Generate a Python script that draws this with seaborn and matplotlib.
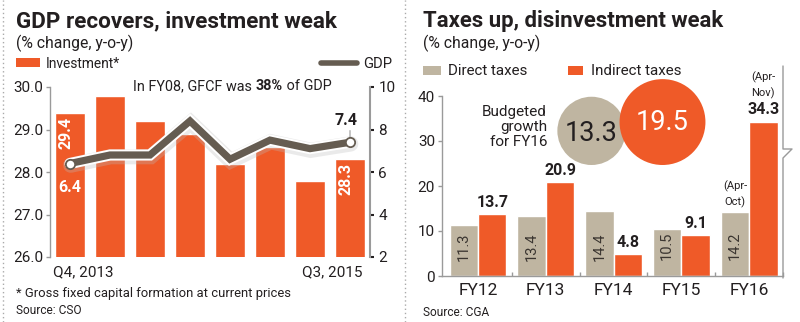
import matplotlib
matplotlib.use("Agg")
import matplotlib.pyplot as plt
import matplotlib.font_manager as fm
import matplotlib.patheffects as pe
from matplotlib.patches import Rectangle
from matplotlib.lines import Line2D
import seaborn as sns
import pandas as pd

# ---------------- data ----------------
quarters = ["Q4, 2013", "Q1, 2014", "Q2, 2014", "Q3, 2014",
            "Q4, 2014", "Q1, 2015", "Q2, 2015", "Q3, 2015"]
investment = [29.4, 29.8, 29.2, 28.9, 28.2, 28.6, 27.8, 28.3]
gdp = [6.4, 6.8, 6.8, 8.4, 6.6, 7.5, 7.1, 7.4]

years = ["FY12", "FY13", "FY14", "FY15", "FY16"]
direct_taxes = [11.3, 13.4, 14.4, 10.5, 14.2]
indirect_taxes = [13.7, 20.9, 4.8, 9.1, 34.3]
tax_types = ["Direct taxes", "Indirect taxes"]
budgeted_fy16 = [13.3, 19.5]

# ---------------- style ----------------
sns.set_theme(style="white")
names = {f.name for f in fm.fontManager.ttflist}
FONT = "Liberation Sans Narrow" if "Liberation Sans Narrow" in names else "Roboto"
plt.rcParams["font.family"] = [FONT, "DejaVu Sans"]

ORANGE = "#ef5a28"
BEIGE = "#bfb5a1"
LINEC = "#655c51"
DARK = "#231f20"
SPINE = "#9a9a9a"

W, H, DPI = 800, 322, 100
fig = plt.figure(figsize=(W / DPI, H / DPI), dpi=DPI)
fig.patch.set_facecolor("white")


def fx(x):
    return x / W


def fy(y):
    return 1 - y / H


def ftext(x, y, s, **kw):
    kw.setdefault("color", DARK)
    return fig.text(fx(x), fy(y), s, **kw)


renderer = fig.canvas.get_renderer()


def fit(t, width):
    """scale a text's font size so that it spans `width` pixels"""
    for _ in range(3):
        bb = t.get_window_extent(renderer)
        t.set_fontsize(t.get_fontsize() * width / bb.width)


# ================= LEFT PANEL =================
ax1 = fig.add_axes([fx(50), fy(257), 320 / W, 170 / H])
df1 = pd.DataFrame({"quarter": quarters, "investment": investment, "gdp": gdp})
sns.barplot(data=df1, x="quarter", y="investment", color=ORANGE, saturation=1,
            width=0.75, ax=ax1, zorder=2)
ax1.set_xlim(-0.5, 7.5)
ax1.set_ylim(26, 30)
ax1.set_yticks([26, 27, 28, 29, 30])
ax1.set_yticklabels([f"{v:.1f}" for v in [26, 27, 28, 29, 30]])
ax1.set_xticks([])
ax1.set_xlabel("")
ax1.set_ylabel("")
for s in ["top", "right", "bottom"]:
    ax1.spines[s].set_visible(False)
ax1.spines["left"].set_color(SPINE)
ax1.spines["left"].set_linewidth(1)
ax1.tick_params(axis="y", length=3, width=1, color=SPINE, labelsize=11,
                labelcolor=DARK, pad=2, left=True)
ax1.set_facecolor("none")

ax2 = ax1.twinx()
sns.lineplot(x=list(range(len(gdp))), y=gdp, ax=ax2, color=LINEC, linewidth=5.2,
             zorder=3, solid_joinstyle="miter",
             path_effects=[pe.SimpleLineShadow(offset=(0.5, -1.2), shadow_color="#bbbbbb",
                                               alpha=0.3, linewidth=11),
                           pe.Stroke(linewidth=8, foreground="white"), pe.Normal()])
ax2.scatter([0, len(gdp) - 1], [gdp[0], gdp[-1]], s=45, facecolor="white",
            edgecolor=LINEC, linewidth=1.3, zorder=5)
ax2.set_ylim(2, 10)
ax2.set_yticks([2, 4, 6, 8, 10])
for s in ["top", "left", "bottom"]:
    ax2.spines[s].set_visible(False)
ax2.spines["right"].set_color(SPINE)
ax2.spines["right"].set_linewidth(1.5)
ax2.tick_params(axis="y", length=3, width=1.5, color=DARK, labelsize=11,
                labelcolor=DARK, pad=3, right=True)
ax2.set_xlim(-0.5, 7.5)

# bar / point labels
ax1.annotate(f"{investment[0]}", (0, investment[0]), xytext=(-3, -3),
             textcoords="offset points", rotation=90, ha="center", va="top",
             color="white", fontsize=11.5, fontweight="bold")
ax1.annotate(f"{investment[-1]}", (7, investment[-1]), xytext=(-3, -3),
             textcoords="offset points", rotation=90, ha="center", va="top",
             color="white", fontsize=11.5, fontweight="bold")
ax2.annotate(f"{gdp[0]}", (0, gdp[0]), xytext=(0, -12), textcoords="offset points",
             ha="center", va="top", color="white", fontsize=11.5, fontweight="bold")
ax2.annotate(f"{gdp[-1]}", (7, gdp[-1]), xytext=(-3, 10), textcoords="offset points",
             ha="center", va="bottom", color=DARK, fontsize=11.5, fontweight="bold")
ax2.annotate("", (7, gdp[-1]), xytext=(7, gdp[-1] + 0.55),
             arrowprops=dict(arrowstyle="-", color=SPINE, lw=0.8, shrinkA=0, shrinkB=3))

# x labels (first and last quarter)
ax1.text(-0.42, -0.05, quarters[0], transform=ax1.get_xaxis_transform(),
         ha="left", va="top", fontsize=11, color=DARK)
ax1.text(7.3, -0.05, quarters[-1], transform=ax1.get_xaxis_transform(),
         ha="right", va="top", fontsize=11, color=DARK)

# titles and notes
t = ftext(16, 27, "GDP recovers, investment weak", fontsize=16, fontweight="bold",
          va="baseline")
fit(t, 321)
t = ftext(16, 48, "(% change, y-o-y)", fontsize=9, va="baseline")
fit(t, 117)
fig.patches.append(Rectangle((fx(16), fy(67)), 24 / W, 9 / H, transform=fig.transFigure,
                             facecolor=ORANGE, edgecolor="none"))
t = ftext(46, 68, "Investment*", fontsize=9.5, va="baseline")
fit(t, 75)
fig.lines.append(Line2D([fx(321), fx(357)], [fy(62.5), fy(62.5)], transform=fig.transFigure,
                        color=LINEC, linewidth=4, solid_capstyle="round"))
t = ftext(363, 68, "GDP", fontsize=9.5, va="baseline")
fit(t, 29)

# annotation with a bold part
parts = [("In FY08, GFCF was ", "normal"), ("38%", "bold"), (" of GDP", "normal")]
x0 = 133
texts = []
for s, wgt in parts:
    tt = ftext(x0, 90, s, fontsize=10.5, fontweight=wgt, va="baseline")
    bb = tt.get_window_extent(renderer)
    x0 += bb.width
    texts.append(tt)
total = x0 - 133
scale = 200 / total
x0 = 133
for tt in texts:
    tt.set_fontsize(tt.get_fontsize() * scale)
    tt.set_x(fx(x0))
    x0 += tt.get_window_extent(renderer).width

t = ftext(16, 297, "* Gross fixed capital formation at current prices", fontsize=9,
          va="baseline")
fit(t, 274)
t = ftext(16, 314, "Source: CSO", fontsize=9, va="baseline")
fit(t, 65)

# ================= RIGHT PANEL =================
ax3 = fig.add_axes([fx(442), fy(276), 341 / W, 180 / H])
df2 = pd.DataFrame({"year": years * 2,
                    "type": [tax_types[0]] * len(years) + [tax_types[1]] * len(years),
                    "value": direct_taxes + indirect_taxes})
sns.barplot(data=df2, x="year", y="value", hue="type", hue_order=tax_types,
            palette=[BEIGE, ORANGE], saturation=1, width=0.84, gap=0, legend=False,
            ax=ax3)
ax3.set_xlim(-0.531, 4.5)
ax3.set_ylim(0, 40)
ax3.set_yticks([0, 10, 20, 30, 40])
ax3.set_xlabel("")
ax3.set_ylabel("")
for s in ["top", "right"]:
    ax3.spines[s].set_visible(False)
for s in ["left", "bottom"]:
    ax3.spines[s].set_color(SPINE)
    ax3.spines[s].set_linewidth(1)
ax3.tick_params(axis="y", length=3, width=1, color=SPINE, labelsize=11,
                labelcolor=DARK, pad=2, left=True)
ax3.tick_params(axis="x", which="major", length=0, labelsize=12.5, labelcolor=DARK, pad=5)
ax3.set_xticks([i + 0.5 for i in range(len(years))], minor=True)
ax3.tick_params(axis="x", which="minor", length=3, width=1, color=SPINE, bottom=True,
                direction="in")

# value labels
for i, v in enumerate(direct_taxes):
    ax3.text(i - 0.21, 6.6, f"{v}", rotation=90, ha="center", va="center",
             fontsize=10.5, color="#3a3530")
for i, v in enumerate(indirect_taxes):
    ax3.annotate(f"{v}", (i + 0.21, v), xytext=(0, 3), textcoords="offset points",
                 ha="center", va="bottom", fontsize=11.5, fontweight="bold", color=DARK)
n = len(years) - 1
ax3.annotate("(Apr-\nOct)", (n - 0.21, direct_taxes[n]), xytext=(0, 3),
             textcoords="offset points", ha="center", va="bottom", fontsize=8,
             color=DARK, linespacing=1.5)
ax3.annotate("(Apr-\nNov)", (n + 0.21, indirect_taxes[n]), xytext=(0, 16),
             textcoords="offset points", ha="center", va="bottom", fontsize=8,
             color=DARK, linespacing=1.6)

# budgeted growth bubbles (bottom-aligned, pixel-unit y axis)
axb = fig.add_axes([fx(556), fy(170), 142 / W, 100 / H])
axb.set_xlim(-0.5, 1.5)
axb.set_ylim(0, 100)
axb.axis("off")
diam_px = [14.45 * v ** 0.6 for v in budgeted_fy16]
ys = [5 + d / 2 for d in diam_px]
axb.scatter([0, 1], ys, s=[(d * 0.72) ** 2 for d in diam_px], c=[BEIGE, ORANGE],
            linewidths=0, clip_on=False)
axb.text(0, ys[0] - 3, f"{budgeted_fy16[0]}", ha="center", va="center", fontsize=19.5,
         color=DARK)
axb.text(1, ys[1], f"{budgeted_fy16[1]}", ha="center", va="center", fontsize=19.5,
         color="white")
ftext(547, 127, "Budgeted\ngrowth\nfor FY16", ha="right", va="center", fontsize=11,
      linespacing=1.1, multialignment="right")

# right-hand bracket with break mark
fig.lines.append(Line2D([fx(783), fx(783), fx(792), fx(783), fx(783)],
                        [fy(66), fy(149), fy(149), fy(158), fy(278)],
                        transform=fig.transFigure, color=SPINE, linewidth=1))

t = ftext(423, 27, "Taxes up, disinvestment weak", fontsize=16, fontweight="bold",
          va="baseline")
fit(t, 302)
t = ftext(423, 48, "(% change, y-o-y)", fontsize=9, va="baseline")
fit(t, 117)
fig.patches.append(Rectangle((fx(423), fy(75)), 18 / W, 9 / H, transform=fig.transFigure,
                             facecolor=BEIGE, edgecolor="none"))
t = ftext(448, 75, tax_types[0], fontsize=10, va="baseline")
fit(t, 80)
fig.patches.append(Rectangle((fx(568), fy(75)), 15 / W, 9 / H, transform=fig.transFigure,
                             facecolor=ORANGE, edgecolor="none"))
t = ftext(591, 75, tax_types[1], fontsize=10, va="baseline")
fit(t, 91)
t = ftext(423, 316, "Source: CGA", fontsize=9, va="baseline")
fit(t, 67)

# dotted panel separators
for xs in (3, 405):
    fig.lines.append(Line2D([fx(xs), fx(xs)], [0, 1], transform=fig.transFigure,
                            color="#aaaaaa", linewidth=1, linestyle=(0, (1, 2))))

fig.savefig("out.png", dpi=DPI, facecolor="white")
